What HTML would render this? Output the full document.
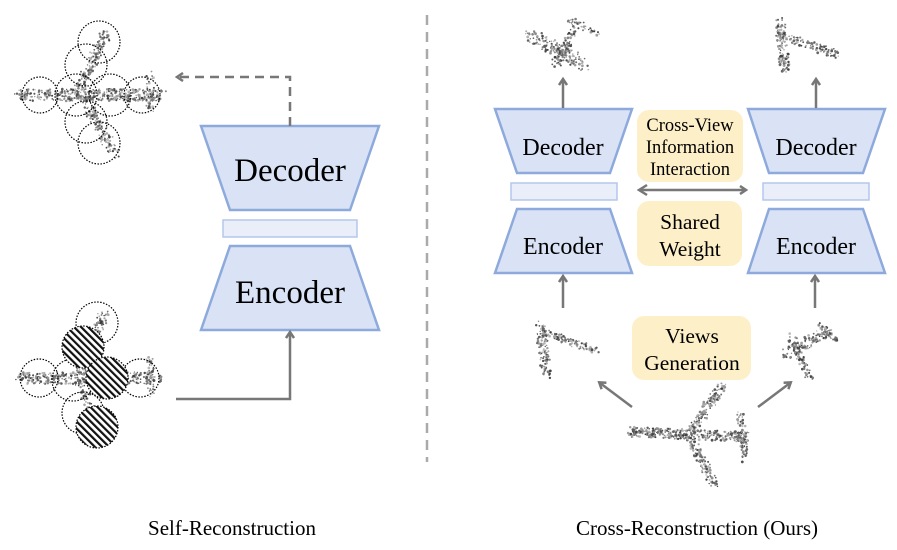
<!DOCTYPE html>
<html><head><meta charset="utf-8"><style>
body{margin:0;background:#fff;width:897px;height:550px;overflow:hidden}
svg{display:block}
text{font-family:"Liberation Serif",serif;fill:#000}
</style></head><body>
<svg id="s" width="897" height="550" viewBox="0 0 897 550">
<defs>
<pattern id="h" width="5" height="5" patternUnits="userSpaceOnUse" patternTransform="rotate(-45)">
<rect width="5" height="5" fill="#fff"/><rect width="2.2" height="5" fill="#111"/></pattern>
<marker id="a" markerWidth="10" markerHeight="10" refX="6" refY="5" orient="auto" markerUnits="userSpaceOnUse"><path d="M1,1 L7,5 L1,9" fill="none" stroke="#777" stroke-width="2.5"/></marker>
</defs>
<g id="pts"></g>
<g fill="none" stroke="#000" stroke-width="1.2" stroke-dasharray="1.5 1.5">
<circle cx="99" cy="42" r="21"/><circle cx="86" cy="65" r="21"/><circle cx="40" cy="95" r="18"/><circle cx="76" cy="95" r="21"/><circle cx="110" cy="95" r="21"/><circle cx="142" cy="95" r="18"/><circle cx="86" cy="122" r="21"/><circle cx="99" cy="143" r="21"/>
<circle cx="97" cy="323" r="21"/><circle cx="39" cy="378" r="19"/><circle cx="73" cy="380" r="21"/><circle cx="140" cy="378" r="19"/><circle cx="83" cy="413" r="21"/>
</g>
<g stroke="#000" stroke-width="1.2" stroke-dasharray="1.5 1.5" fill="url(#h)">
<circle cx="83" cy="347" r="21"/><circle cx="107" cy="378" r="21"/><circle cx="97" cy="427" r="21"/>
</g>
<g fill="#dae3f5" stroke="#8eaadc" stroke-width="2.5">
<path d="M201,126 L379,126 L350,210 L230,210 Z"/>
<path d="M230,246 L350,246 L379,330 L201,330 Z"/>
<rect x="223" y="220" width="134" height="17" fill="#e9eef9" stroke="#b4c7ec" stroke-width="1.5"/>
<path d="M495,109 L632,109 L610,173 L517,173 Z"/>
<path d="M517,209 L610,209 L632,273 L495,273 Z"/>
<rect x="511" y="183" width="106" height="17" fill="#e9eef9" stroke="#b4c7ec" stroke-width="1.5"/>
<path d="M748,109 L885,109 L863,173 L769,173 Z"/>
<path d="M769,209 L863,209 L885,273 L748,273 Z"/>
<rect x="763" y="183" width="106" height="17" fill="#e9eef9" stroke="#b4c7ec" stroke-width="1.5"/>
</g>
<g fill="#fdf0c9">
<rect x="637" y="110" width="106" height="72" rx="12"/>
<rect x="637" y="201" width="105" height="65" rx="12"/>
<rect x="632" y="316" width="119" height="64" rx="12"/>
</g>
<text x="290" y="181" font-size="33" text-anchor="middle">Decoder</text>
<text x="290" y="303" font-size="33" text-anchor="middle">Encoder</text>
<g font-size="24" text-anchor="middle">
<text x="563" y="155">Decoder</text><text x="563" y="254">Encoder</text>
<text x="816" y="155">Decoder</text><text x="816" y="254">Encoder</text>
</g>
<g font-size="18.5" text-anchor="middle">
<text x="690" y="131">Cross-View</text><text x="690" y="153">Information</text><text x="690" y="175">Interaction</text>
<text x="690" y="229" font-size="21.5">Shared</text><text x="690" y="256" font-size="21.5">Weight</text>
<text x="692" y="343" font-size="21.5">Views</text><text x="692" y="370" font-size="21.5">Generation</text>
</g>
<g fill="none" stroke="#777" stroke-width="2.5">
<path d="M290,126 V77 H178" stroke-dasharray="9 6" marker-end="url(#a)"/>
<path d="M176,399 H290 V333" marker-end="url(#a)"/>
<path d="M563,108 V80" marker-end="url(#a)"/>
<path d="M816,108 V80" marker-end="url(#a)"/>
<path d="M563,308 V277" marker-end="url(#a)"/>
<path d="M815,308 V277" marker-end="url(#a)"/>
<path d="M632,407 L600,383" marker-end="url(#a)"/>
<path d="M758,407 L790,383" marker-end="url(#a)"/>
<path d="M640,190 H745" marker-end="url(#a)"/>
</g>
<path d="M647,185 L639,190 L647,195" fill="none" stroke="#777" stroke-width="2.5"/>
<line x1="427" y1="15" x2="427" y2="462" stroke="#aaa" stroke-width="2.5" stroke-dasharray="10 7"/>
<text x="232" y="535" font-size="21" text-anchor="middle">Self-Reconstruction</text>
<text x="697" y="535" font-size="21" text-anchor="middle">Cross-Reconstruction (Ours)</text>
</svg>
<script>
var g=document.getElementById('pts'),seed=7;function r(){seed=(seed*16807)%2147483647;return seed/2147483647;}
function seg(x1,y1,x2,y2,w,n){for(var i=0;i<n;i++){var t=r(),x=x1+(x2-x1)*t+(r()-.5)*w,y=y1+(y2-y1)*t+(r()-.5)*w;
var c=document.createElementNS('http://www.w3.org/2000/svg','circle');c.setAttribute('cx',x.toFixed(1));c.setAttribute('cy',y.toFixed(1));c.setAttribute('r',(0.6+r()*0.8).toFixed(1));var v=Math.floor(60+r()*130);c.setAttribute('fill','rgb('+v+','+v+','+v+')');g.appendChild(c);}}
// left planes
seg(20,95,160,95,12,380);seg(107,32,78,92,10,150);seg(80,95,115,153,10,150);seg(150,75,150,110,8,50);
seg(18,378,158,378,12,340);seg(105,312,80,372,10,130);seg(80,380,100,440,10,110);seg(150,358,150,395,8,50);
// right main plane
seg(630,432,745,437,10,330);seg(722,385,690,432,9,130);seg(690,438,715,487,9,120);seg(740,412,745,460,7,70);
// top left
seg(530,35,585,65,12,150);seg(555,65,575,30,9,80);seg(570,20,600,35,6,40);
// top right
seg(780,20,785,70,10,110);seg(780,35,838,55,8,100);
// mid left
seg(540,325,547,375,10,110);seg(545,332,598,352,7,90);
// mid right
seg(785,355,830,330,10,110);seg(790,335,810,380,8,70);seg(820,325,835,340,6,40);
</script>
</body></html>
